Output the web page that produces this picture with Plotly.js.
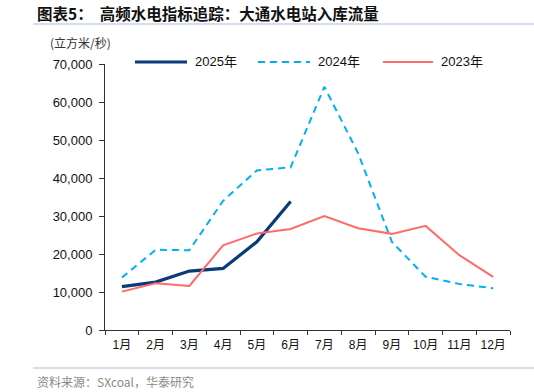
<!DOCTYPE html>
<html><head><meta charset="utf-8">
<script src="https://cdn.plot.ly/plotly-3.0.1.min.js"></script>
<style>html,body{margin:0;padding:0;background:#fff}#c{width:534px;height:392px}</style>
</head><body><div id="c"></div>
<script>
const months = ['1月','2月','3月','4月','5月','6月','7月','8月','9月','10月','11月','12月'];
const y2025 = [11400, 12600, 15500, 16200, 23200, 33800];
const y2024 = [13800, 21100, 21000, 34000, 42000, 42800, 64000, 46500, 23200, 14000, 12100, 11000];
const y2023 = [10100, 12300, 11600, 22300, 25400, 26600, 30000, 26800, 25300, 27400, 19700, 14000];
const yTicks = [0, 10000, 20000, 30000, 40000, 50000, 60000, 70000];
const seriesNames = ['2025年','2024年','2023年'];
const colors = ['#0b3a78','#00b0f0','#ff6b6b'];

const cn = '"Liberation Sans", Arial, "Noto Sans CJK SC", sans-serif';
const traces = [
  {x: months.slice(0, y2025.length), y: y2025, name: seriesNames[0], type:'scatter', mode:'lines',
   line:{color:colors[0], width:3.2}},
  {x: months, y: y2024, name: seriesNames[1], type:'scatter', mode:'lines',
   line:{color:colors[1], width:2, dash:'7px,5px'}},
  {x: months, y: y2023, name: seriesNames[2], type:'scatter', mode:'lines',
   line:{color:colors[2], width:2}}
];

const legX = [[135,187,193],[258,310,316],[383,433,439]];
const W = 534, ml = 105, mr = 24, pw = W - ml - mr;
const px = v => (v - ml) / pw;
const shapes = [
  {type:'line', xref:'paper', yref:'paper', x0:px(33), x1:px(534), y0:(330-24)/266, y1:(330-24)/266,
   line:{color:'#a8bdd6', width:1.2}},
  {type:'line', xref:'paper', yref:'paper', x0:px(33), x1:px(534), y0:(330-368)/266, y1:(330-368)/266,
   line:{color:'#a8bdd6', width:1.2}}
];
const annotations = [
  {xref:'paper', yref:'paper', x:px(35), y:(330-13)/266, xanchor:'left', yanchor:'middle', showarrow:false,
   text:'<b>图表5：  高频水电指标追踪：大通水电站入库流量</b>', font:{family:'"Noto Sans CJK SC", sans-serif', size:15.5, color:'#111'}},
  {xref:'paper', yref:'paper', x:px(48), y:(330-42)/266, xanchor:'left', yanchor:'middle', showarrow:false,
   text:'(立方米/秒)', font:{family:'"Noto Sans CJK SC", sans-serif', size:12, color:'#333'}},
  {xref:'paper', yref:'paper', x:px(35), y:(330-381)/266, xanchor:'left', yanchor:'middle', showarrow:false,
   text:'资料来源：SXcoal，华泰研究', font:{family:'"Noto Sans CJK SC", sans-serif', size:12, color:'#8a8a8a'}}
];
seriesNames.forEach((n, i) => {
  const t = traces[i];
  shapes.push({type:'line', xref:'paper', yref:'paper', x0:px(legX[i][0]), x1:px(legX[i][1]),
    y0:(330-62)/266, y1:(330-62)/266, line:{color:t.line.color, width:t.line.width, dash:t.line.dash || 'solid'}});
  annotations.push({xref:'paper', yref:'paper', x:px(legX[i][2]), y:(330-62)/266, xanchor:'left', yanchor:'middle',
    showarrow:false, text:n, font:{family:cn, size:13, color:'#111'}});
});

const layout = {
  width:534, height:392,
  margin:{l:ml, r:mr, t:64, b:62},
  paper_bgcolor:'#fff', plot_bgcolor:'#fff',
  showlegend:false,
  font:{family:cn, size:13, color:'#111'},
  xaxis:{type:'category', categoryorder:'array', categoryarray:months, range:[-0.5, 11.5],
    showgrid:false, zeroline:false, showline:true, linecolor:'#333', linewidth:1,
    ticks:'outside', tickson:'boundaries', ticklen:4, tickcolor:'#333', tickangle:0,
    ticklabelstandoff:4,
    tickfont:{family:cn, size:12, color:'#111'}, fixedrange:true},
  yaxis:{range:[0,70000], tickvals:yTicks, ticktext:yTicks.map(v => v.toLocaleString('en-US')),
    showgrid:false, zeroline:false, showline:true, linecolor:'#333', linewidth:1,
    ticks:'outside', ticklen:5, tickcolor:'#333', ticklabelstandoff:4,
    tickfont:{family:cn, size:13, color:'#111'}, fixedrange:true},
  shapes: shapes,
  annotations: annotations
};
Plotly.newPlot('c', traces, layout, {staticPlot:true, displayModeBar:false});
</script></body></html>
